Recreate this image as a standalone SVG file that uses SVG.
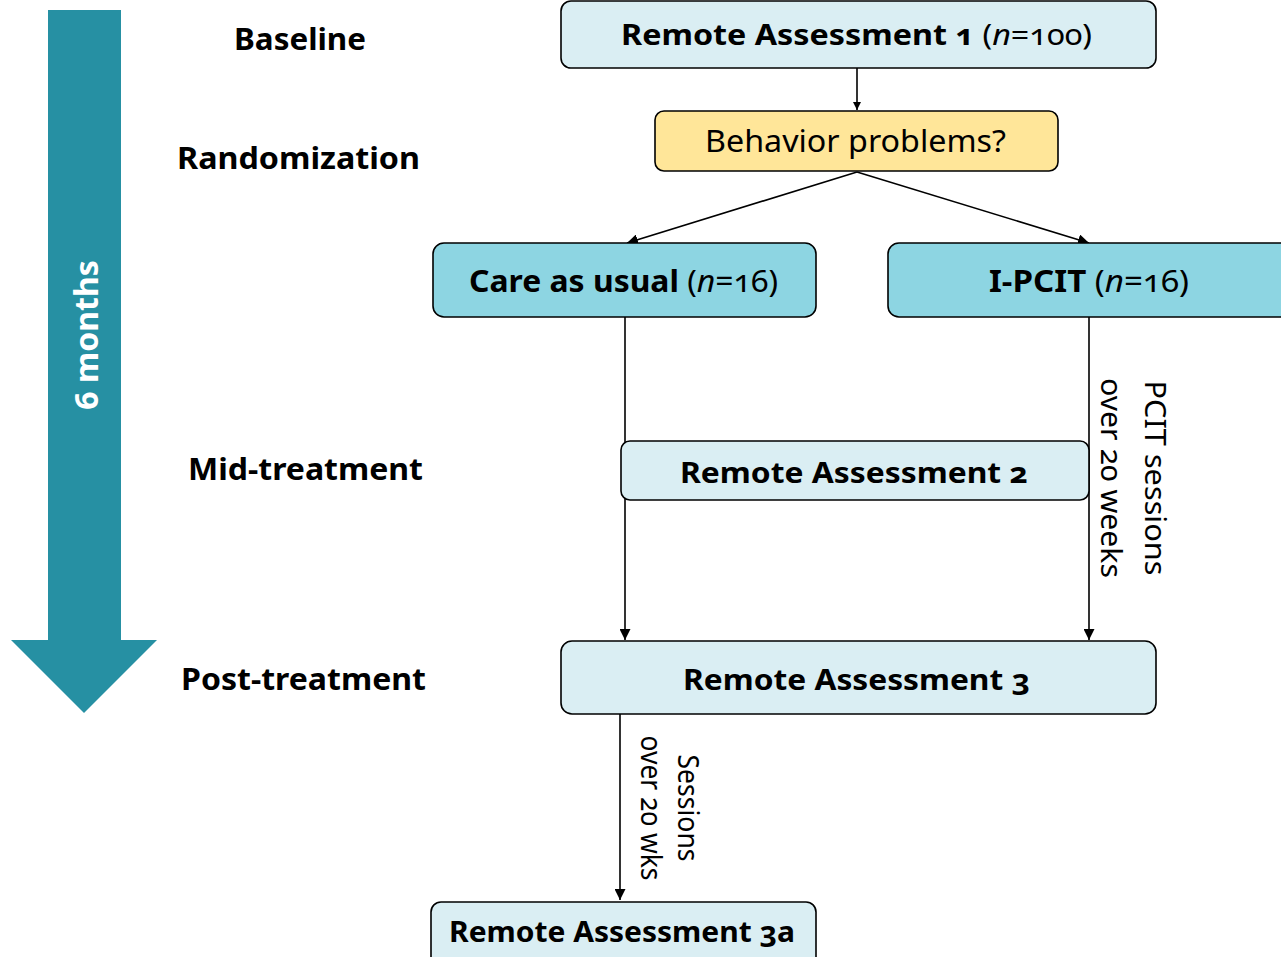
<svg xmlns="http://www.w3.org/2000/svg" width="1281" height="957" viewBox="0 0 1281 957">
<style>
.t{font-family:"Noto Sans","Open Sans","Liberation Sans",sans-serif;font-variant-numeric:oldstyle-nums;fill:#000}
.b{font-weight:bold}
.lab{font-size:30px;font-weight:bold;text-anchor:start}
.box{stroke:#000;stroke-width:1.6}
.light{fill:#daeef3}
.mid{fill:#8dd5e2}
.yel{fill:#ffe699}
.c{stroke:#000;stroke-width:1.6;fill:none}
</style>
<defs>
<marker id="ah" viewBox="0 0 10 10" refX="10" refY="5" markerWidth="8" markerHeight="8" markerUnits="userSpaceOnUse" orient="auto">
<path d="M0,0 L10,5 L0,10 z" fill="#000"/>
</marker>
<marker id="ah2" viewBox="0 0 10 10" refX="10" refY="5" markerWidth="11" markerHeight="11" markerUnits="userSpaceOnUse" orient="auto">
<path d="M0,0 L10,5 L0,10 z" fill="#000"/>
</marker>
</defs>

<g id="timeline">
<polygon points="48,10 121,10 121,640 157,640 84,713 11,640 48,640" fill="#2690a3"/>
<text class="t b" transform="translate(98,335) rotate(-90)" font-size="32" text-anchor="middle" fill="#fff" style="fill:#fff">6 months</text>
</g>

<g id="labels">
<text class="t lab" x="234" y="50" textLength="132" lengthAdjust="spacingAndGlyphs">Baseline</text>
<text class="t lab" x="177" y="169" textLength="243" lengthAdjust="spacingAndGlyphs">Randomization</text>
<text class="t lab" x="188" y="480" textLength="235" lengthAdjust="spacingAndGlyphs">Mid-treatment</text>
<text class="t lab" x="181" y="690" textLength="245" lengthAdjust="spacingAndGlyphs">Post-treatment</text>
</g>

<g id="connectors">
<line class="c" x1="857" y1="68" x2="857" y2="110" marker-end="url(#ah)"/>
<line class="c" x1="857" y1="172" x2="627" y2="243" marker-end="url(#ah2)"/>
<line class="c" x1="857" y1="172" x2="1089" y2="243" marker-end="url(#ah2)"/>
<line class="c" x1="625" y1="317" x2="625" y2="640" marker-end="url(#ah2)"/>
<line class="c" x1="1089" y1="317" x2="1089" y2="640" marker-end="url(#ah2)"/>
<line class="c" x1="620" y1="714" x2="620" y2="900" marker-end="url(#ah2)"/>
<text class="t" transform="translate(1145,478) rotate(90)" font-size="29" text-anchor="middle" textLength="195" lengthAdjust="spacingAndGlyphs">PCIT sessions</text>
<text class="t" transform="translate(1101,478) rotate(90)" font-size="29" text-anchor="middle" textLength="200" lengthAdjust="spacingAndGlyphs">over 20 weeks</text>
<text class="t" transform="translate(678,808) rotate(90)" font-size="29" text-anchor="middle" textLength="107" lengthAdjust="spacingAndGlyphs">Sessions</text>
<text class="t" transform="translate(641,808) rotate(90)" font-size="29" text-anchor="middle" textLength="145" lengthAdjust="spacingAndGlyphs">over 20 wks</text>
</g>

<g id="ra1">
<rect class="box light" x="561" y="1" width="595" height="67" rx="10"/>
<text class="t" x="621" y="45" font-size="29" textLength="471" lengthAdjust="spacingAndGlyphs"><tspan class="b">Remote Assessment 1 </tspan><tspan>(<tspan font-style="italic">n</tspan>=100)</tspan></text>
</g>

<g id="behavior">
<rect class="box yel" x="655" y="111" width="403" height="60" rx="9"/>
<text class="t" x="705" y="152" font-size="31" textLength="301" lengthAdjust="spacingAndGlyphs">Behavior problems?</text>
</g>

<g id="care">
<rect class="box mid" x="433" y="243" width="383" height="74" rx="11"/>
<text class="t" x="469" y="292" font-size="31" textLength="309" lengthAdjust="spacingAndGlyphs"><tspan class="b">Care as usual </tspan><tspan>(<tspan font-style="italic">n</tspan>=16)</tspan></text>
</g>

<g id="ipcit">
<rect class="box mid" x="888" y="243" width="410" height="74" rx="11"/>
<text class="t" x="989" y="292" font-size="31" textLength="200" lengthAdjust="spacingAndGlyphs"><tspan class="b">I-PCIT </tspan><tspan>(<tspan font-style="italic">n</tspan>=16)</tspan></text>
</g>

<g id="ra2">
<rect class="box light" x="621" y="441" width="468" height="59" rx="9"/>
<text class="t b" x="680" y="483" font-size="29" textLength="348" lengthAdjust="spacingAndGlyphs">Remote Assessment 2</text>
</g>

<g id="ra3">
<rect class="box light" x="561" y="641" width="595" height="73" rx="11"/>
<text class="t b" x="683" y="690" font-size="29" textLength="347" lengthAdjust="spacingAndGlyphs">Remote Assessment 3</text>
</g>

<g id="ra3a">
<rect class="box light" x="431" y="902" width="385" height="70" rx="10"/>
<text class="t b" x="449" y="942" font-size="29" textLength="346" lengthAdjust="spacingAndGlyphs">Remote Assessment 3a</text>
</g>
</svg>
